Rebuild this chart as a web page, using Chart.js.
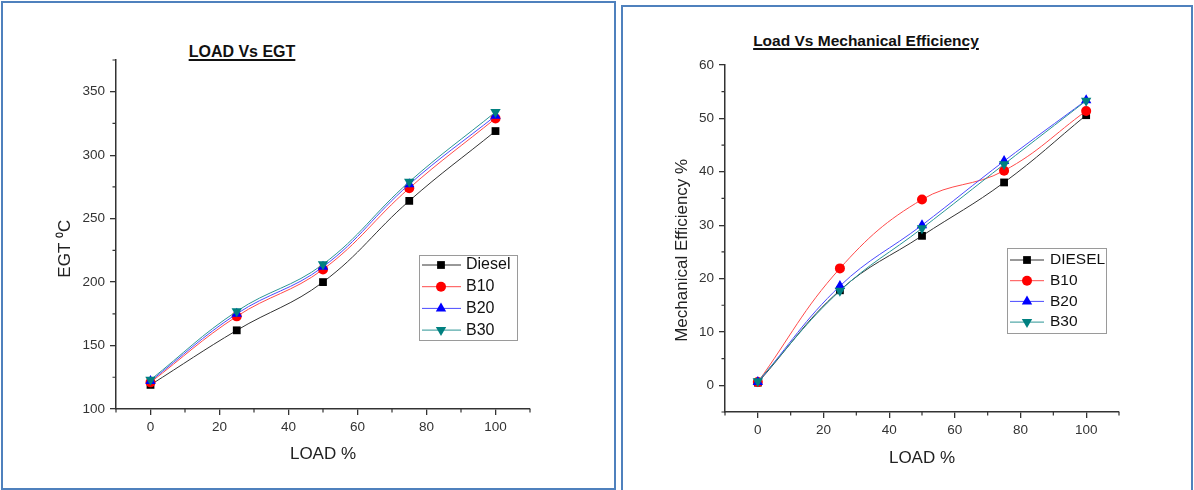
<!DOCTYPE html>
<html lang="en">
<head>
  <meta charset="UTF-8">
  <title>Load Vs EGT / Mechanical Efficiency</title>
  <script src="https://cdn.jsdelivr.net/npm/chart.js"></script>
  <style>
    body {
      margin: 0;
      background: #fff;
      font-family: 'Liberation Sans', Arial, sans-serif;
    }
    .page {
      position: relative;
      width: 1194px;
      height: 490px;
      overflow: hidden;
    }
    .panel {
      position: absolute;
      box-sizing: border-box;
      border: 2px solid #4f81bd;
    }
    .title {
      position: absolute;
      text-align: center;
      font-weight: bold;
      color: #111;
      line-height: 16px;
      text-decoration: underline;
      text-decoration-thickness: 2px;
      text-underline-offset: 2px;
    }
    canvas {
      position: absolute;
      top: 0;
    }
  </style>
</head>
<body>
  <div class="page">
    <div class="panel" style="left:1px; top:1px; width:615px; height:489px;"></div>
    <div class="panel" style="left:621px; top:5px; width:572px; height:500px;"></div>

    <div class="title" style="left:92px; top:44px; width:300px; font-size:16px;">LOAD Vs EGT</div>
    <div class="title" style="left:716px; top:33px; width:300px; font-size:15.5px;">Load Vs Mechanical Efficiency</div>

    <canvas id="egtChart" width="615" height="490" style="left:0;"></canvas>
    <canvas id="meChart" width="574" height="490" style="left:620px;"></canvas>
  </div>

  <script>
    // ---- data ----
    const loads = [0, 25, 50, 75, 100];
    const fuels = ['Diesel', 'B10', 'B20', 'B30'];
    const fuelsME = ['DIESEL', 'B10', 'B20', 'B30'];

    const egtDiesel = [119, 162, 200, 264, 319];
    const egtB10 = [121, 173, 210, 274, 329];
    const egtB20 = [122, 175, 212, 277, 331];
    const egtB30 = [123, 177, 214, 279, 334];

    const meDiesel = [0.5, 17.8, 28.0, 38.0, 50.6];
    const meB10 = [0.6, 21.9, 34.8, 40.2, 51.4];
    const meB20 = [0.6, 18.6, 30.0, 42.0, 53.4];
    const meB30 = [0.75, 17.7, 29.4, 41.4, 53.3];

    const loadTicks = [0, 20, 40, 60, 80, 100];
    const loadMinor = [-10, 10, 30, 50, 70, 90, 110];
    const egtTicks = [100, 150, 200, 250, 300, 350];
    const egtMinor = [125, 175, 225, 275, 325, 375];
    const meTicks = [0, 10, 20, 30, 40, 50, 60];
    const meMinor = [-5, 5, 15, 25, 35, 45, 55];

    // ---- styles ----
    const FONT = "'Liberation Sans', Arial, sans-serif";
    const AXIS = '#333';
    const markerColors = ['#000000', '#ff0000', '#0000ff', '#008080'];
    const lineColors = ['#333333', '#ff4a4a', '#4a4aff', '#2a9494'];
    const pointStyles = ['rect', 'circle', 'triangle', 'triangle'];
    const pointRadii = [5.5, 5, 6, 6];
    const pointRotations = [0, 0, 0, 180];

    Chart.defaults.font.family = FONT;
    Chart.defaults.color = '#222';

    // short minor ticks between the labelled ones
    const minorTicks = {
      id: 'minorTicks',
      afterDraw(chart, args, opts) {
        const ctx = chart.ctx;
        const xs = chart.scales.x, ys = chart.scales.y;
        ctx.save();
        ctx.strokeStyle = AXIS;
        ctx.lineWidth = 1.2;
        ctx.beginPath();
        opts.x.forEach(v => {
          const px = xs.getPixelForValue(v);
          ctx.moveTo(px, xs.top);
          ctx.lineTo(px, xs.top + 3.5);
        });
        opts.y.forEach(v => {
          const py = ys.getPixelForValue(v);
          ctx.moveTo(ys.right - 3.5, py);
          ctx.lineTo(ys.right, py);
        });
        ctx.stroke();
        ctx.restore();
      }
    };

    // boxed legend inside the plot, like the Origin one
    const boxLegend = {
      id: 'boxLegend',
      afterDraw(chart, args, o) {
        const ctx = chart.ctx;
        ctx.save();
        ctx.strokeStyle = '#9a9a9a';
        ctx.lineWidth = 1;
        ctx.strokeRect(o.x + 0.5, o.y + 0.5, o.w, o.h);
        ctx.font = o.fontSize + 'px ' + FONT;
        ctx.textBaseline = 'middle';
        chart.data.datasets.forEach((ds, i) => {
          const y = o.y + o.first + i * o.step;
          ctx.strokeStyle = ds.borderColor;
          ctx.lineWidth = 1;
          ctx.beginPath();
          ctx.moveTo(o.x + o.lineFrom, y);
          ctx.lineTo(o.x + o.lineTo, y);
          ctx.stroke();
          ctx.fillStyle = ds.pointBackgroundColor;
          Chart.helpers.drawPoint(ctx, {
            pointStyle: ds.pointStyle,
            radius: ds.pointRadius,
            rotation: ds.pointRotation,
            borderWidth: 0
          }, o.x + o.marker, y);
          ctx.fillStyle = '#111';
          ctx.fillText(ds.label, o.x + o.textX, y);
        });
        ctx.restore();
      }
    };

    function makeDatasets(labels, series) {
      return series.map((vals, i) => ({
        label: labels[i],
        data: loads.map((x, k) => ({ x: x, y: vals[k] })),
        borderColor: lineColors[i],
        backgroundColor: markerColors[i],
        pointBackgroundColor: markerColors[i],
        pointBorderColor: markerColors[i],
        pointBorderWidth: 0,
        pointStyle: pointStyles[i],
        pointRadius: pointRadii[i],
        pointRotation: pointRotations[i],
        borderWidth: 1,
        tension: 0.4,
        order: series.length - 1 - i
      }));
    }

    function makeChart(id, c) {
      return new Chart(document.getElementById(id), {
        type: 'line',
        data: { datasets: makeDatasets(c.labels, c.series) },
        plugins: [minorTicks, boxLegend],
        options: {
          responsive: false,
          animation: false,
          layout: { padding: c.padding },
          plugins: {
            legend: { display: false },
            tooltip: { enabled: false },
            minorTicks: { x: loadMinor, y: c.yMinor },
            boxLegend: c.legend
          },
          scales: {
            x: {
              type: 'linear',
              min: -10,
              max: 110,
              afterBuildTicks: s => { s.ticks = loadTicks.map(v => ({ value: v })); },
              afterFit: s => { s.height = c.xHeight; },
              grid: { drawOnChartArea: false, drawTicks: true, tickLength: 6, color: AXIS, lineWidth: 1.3 },
              border: { display: true, color: AXIS, width: 1.5 },
              ticks: { font: { size: 13.5 }, color: '#333', padding: 4, maxRotation: 0 },
              title: { display: true, text: 'LOAD %', font: { size: 17 }, color: '#222', padding: { top: 0, bottom: c.xTitlePad } }
            },
            y: {
              type: 'linear',
              min: c.yMin,
              max: c.yMax,
              afterBuildTicks: s => { s.ticks = c.yTicks.map(v => ({ value: v })); },
              afterFit: s => { s.width = c.yWidth; },
              grid: { drawOnChartArea: false, drawTicks: true, tickLength: 6, color: AXIS, lineWidth: 1.3 },
              border: { display: true, color: AXIS, width: 1.5 },
              ticks: { font: { size: 13.5 }, color: '#333', padding: 5 },
              title: { display: true, text: c.yTitle, font: { size: 17 }, color: '#222', padding: { top: c.yTitlePad, bottom: 0 } }
            }
          }
        }
      });
    }

    makeChart('egtChart', {
      labels: fuels,
      series: [egtDiesel, egtB10, egtB20, egtB30],
      yMin: 100, yMax: 375, yTicks: egtTicks, yMinor: egtMinor,
      yTitle: 'EGT \u2070C      ',
      padding: { left: 0, top: 60, right: 85, bottom: 0 },
      yWidth: 116, yTitlePad: 54.8,
      xHeight: 81, xTitlePad: 25.8,
      legend: { x: 419, y: 255, w: 98, h: 85, first: 10, step: 21.7, lineFrom: 3, lineTo: 42, marker: 22, textX: 47, fontSize: 16 }
    });

    makeChart('meChart', {
      labels: fuelsME,
      series: [meDiesel, meB10, meB20, meB30],
      yMin: -5, yMax: 60, yTicks: meTicks, yMinor: meMinor,
      yTitle: 'Mechanical Efficiency %     ',
      padding: { left: 0, top: 65, right: 75, bottom: 0 },
      yWidth: 105, yTitlePad: 51.8,
      xHeight: 78, xTitlePad: 21.8,
      legend: { x: 387, y: 248, w: 99, h: 85, first: 12, step: 20.7, lineFrom: 3, lineTo: 37, marker: 20, textX: 43, fontSize: 15.5 }
    });
  </script>
</body>
</html>
